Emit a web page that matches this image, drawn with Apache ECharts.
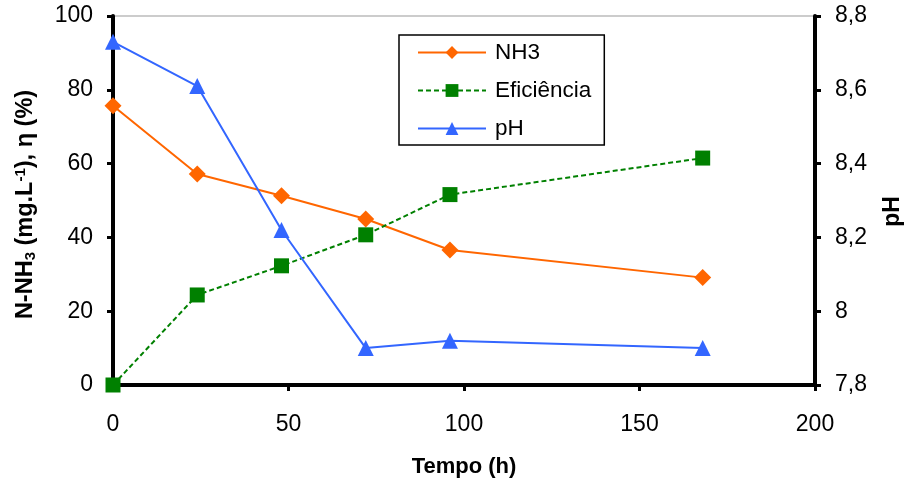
<!DOCTYPE html>
<html>
<head>
<meta charset="utf-8">
<script src="https://cdn.jsdelivr.net/npm/echarts@6/dist/echarts.min.js"></script>
<style>
html,body{margin:0;padding:0;background:#fff;}
#c{width:911px;height:483px;}
</style>
</head>
<body>
<div id="c"></div>
<script>
var times = [0, 24, 48, 72, 96, 168];
var nh3 = [75.7, 57.2, 51.3, 45.0, 36.6, 29.1];
var eficiencia = [0, 24.4, 32.3, 40.7, 51.6, 61.5];
var ph = [8.73, 8.61, 8.22, 7.90, 7.92, 7.90];
var xTicks = [0, 50, 100, 150, 200];
var leftTicks = [0, 20, 40, 60, 80, 100];
var rightTicks = [7.8, 8.0, 8.2, 8.4, 8.6, 8.8];

function pairs(xs, ys){ return xs.map(function(x,i){ return [x, ys[i]]; }); }

var FONT = 'Liberation Sans, Arial, sans-serif';
var chart = echarts.init(document.getElementById('c'), null, {renderer:'canvas'});
var axisLineStyle = {color:'#000', width:4};
var tickStyle = {color:'#000', width:3};

chart.setOption({
  animation:false,
  backgroundColor:'#fff',
  grid:{left:113, right:96, top:16, bottom:98, show:true, borderColor:'#999', borderWidth:1,
        containLabel:false, outerBoundsMode:'none'},
  legend:{
    left:399, top:35, orient:'vertical',
    borderColor:'#000', borderWidth:1.5,
    padding:[6,13,5,18],
    itemWidth:68, itemHeight:16, itemGap:15,
    textStyle:{fontFamily:FONT, fontSize:22.5, color:'#000', lineHeight:22, padding:[0,0,0,4]},
    data:['NH3','Eficiência','pH']
  },
  xAxis:{
    type:'value', min:0, max:200, interval:50,
    name:'Tempo (h)', nameLocation:'middle', nameGap:71,
    nameTextStyle:{fontFamily:FONT, fontSize:22, fontWeight:'bold', color:'#000'},
    axisLine:{show:true, onZero:false, lineStyle:axisLineStyle},
    axisTick:{show:true, length:6, lineStyle:tickStyle},
    axisLabel:{fontFamily:FONT, fontSize:23, color:'#000', margin:28},
    splitLine:{show:false}
  },
  yAxis:[{
    type:'value', min:0, max:100, interval:20, position:'left',
    name:'N-NH{sub|3} (mg.L{sup|-1}), η (%)', nameLocation:'middle', nameGap:75, nameRotate:90,
    nameTextStyle:{fontFamily:FONT, fontSize:23.5, fontWeight:'bold', color:'#000', lineHeight:25,
      padding:[0,8,0,0],
      rich:{
        sub:{fontFamily:FONT, fontSize:15, fontWeight:'bold', color:'#000', verticalAlign:'bottom', lineHeight:15},
        sup:{fontFamily:FONT, fontSize:15, fontWeight:'bold', color:'#000', verticalAlign:'top', lineHeight:15}
      }},
    axisLine:{show:true, onZero:false, lineStyle:axisLineStyle},
    axisTick:{show:true, length:6, lineStyle:tickStyle},
    axisLabel:{fontFamily:FONT, fontSize:23, color:'#000', margin:20},
    splitLine:{show:false}
  },{
    type:'value', min:7.8, max:8.8, interval:0.2, position:'right',
    name:'pH', nameLocation:'middle', nameGap:66, nameRotate:90,
    nameTextStyle:{fontFamily:FONT, fontSize:23, fontWeight:'bold', color:'#000', padding:[0,22,0,0]},
    axisLine:{show:true, onZero:false, lineStyle:axisLineStyle},
    axisTick:{show:true, length:6, lineStyle:tickStyle},
    axisLabel:{fontFamily:FONT, fontSize:23, color:'#000', margin:20,
      formatter:function(v){ var r = Math.round(v*10)/10; return String(r).replace('.', ','); }},
    splitLine:{show:false}
  }],
  series:[{
    name:'NH3', type:'line', yAxisIndex:0, data:pairs(times, nh3),
    symbol:'diamond', symbolSize:17, color:'#FF6600',
    lineStyle:{color:'#FF6600', width:2}, itemStyle:{color:'#FF6600'}
  },{
    name:'Eficiência', type:'line', yAxisIndex:0, data:pairs(times, eficiencia),
    symbol:'rect', symbolSize:15, color:'#008000',
    lineStyle:{color:'#008000', width:2, type:[5,3]}, itemStyle:{color:'#008000'}
  },{
    name:'pH', type:'line', yAxisIndex:1, data:pairs(times, ph),
    symbol:'triangle', symbolSize:16, color:'#3366FF',
    lineStyle:{color:'#3366FF', width:2}, itemStyle:{color:'#3366FF'}
  }]
});
</script>
</body>
</html>
